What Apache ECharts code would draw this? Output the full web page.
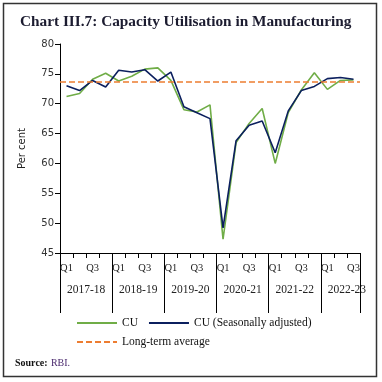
<!DOCTYPE html>
<html><head><meta charset="utf-8">
<script src="https://cdn.jsdelivr.net/npm/echarts@6/dist/echarts.min.js"></script>
<style>html,body{margin:0;padding:0;background:#fff}#c{width:382px;height:382px}</style>
</head><body><div id="c"></div>
<script>
var quarters = ['Q1','Q2','Q3','Q4','Q1','Q2','Q3','Q4','Q1','Q2','Q3','Q4','Q1','Q2','Q3','Q4','Q1','Q2','Q3','Q4','Q1','Q2','Q3'];
var years = ['2017-18','2017-18','2017-18','2017-18','2018-19','2018-19','2018-19','2018-19','2019-20','2019-20','2019-20','2019-20','2020-21','2020-21','2020-21','2020-21','2021-22','2021-22','2021-22','2021-22','2022-23','2022-23','2022-23'];
var cu = [71.2,71.7,74.1,75.1,73.8,74.6,75.8,76.0,73.9,69.0,68.6,69.8,47.3,63.5,66.7,69.2,60.0,68.5,72.3,75.2,72.4,73.9,74.0];
var cuSA = [73.0,72.2,73.9,72.8,75.6,75.3,75.7,73.8,75.3,69.5,68.5,67.5,49.2,63.8,66.4,67.1,61.8,68.8,72.2,72.9,74.2,74.4,74.1];
var longTermAvg = 73.6;
var yTicks = {min:45, max:80, interval:5};

var serif = 'Liberation Serif';
var chart = echarts.init(document.getElementById('c'), null, {renderer:'canvas'});
var legText = {fontFamily:serif, fontSize:11.5, color:'#111'};
chart.setOption({
  animation:false,
  title:{text:'Chart III.7: Capacity Utilisation in Manufacturing', left:15, top:10,
    textStyle:{fontFamily:serif, fontWeight:'bold', fontSize:15.3, color:'#1c1c30'}},
  grid:{left:60, right:22, top:44, bottom:129},
  legend:[
    {data:['CU','CU (Seasonally adjusted)'], left:71, top:312, itemWidth:40, itemHeight:10, itemGap:10,
     itemStyle:{opacity:0}, textStyle:legText},
    {data:['Long-term average'], left:71, top:331, itemWidth:40, itemHeight:10,
     itemStyle:{opacity:0}, textStyle:legText}
  ],
  xAxis:[
    {type:'category', data:quarters, boundaryGap:true,
     axisLine:{lineStyle:{color:'#000', width:1}},
     axisTick:{show:true, interval:0, length:5, lineStyle:{color:'#000'}},
     axisLabel:{interval:0, margin:10, fontFamily:serif, fontSize:10.5, color:'#222',
       formatter:function(v,i){return (i%4===0||i%4===2)?v:'';}}},
    {type:'category', data:years, position:'bottom', boundaryGap:true,
     axisLine:{show:false},
     axisTick:{show:true, length:60, lineStyle:{color:'#000'},
       interval:function(i){return i%4===0;}},
     axisLabel:{interval:0, margin:31, fontFamily:serif, fontSize:11.5, color:'#222', padding:[0,0,0,13],
       formatter:function(v,i){return i%4===1?v:'';}}}
  ],
  yAxis:{type:'value', min:yTicks.min, max:yTicks.max, interval:yTicks.interval,
    name:'Per cent', nameLocation:'middle', nameGap:33, nameRotate:90,
    nameTextStyle:{fontFamily:'DejaVu Sans', fontSize:10, color:'#222'},
    axisLine:{show:true, lineStyle:{color:'#000'}},
    axisTick:{show:true, length:5, lineStyle:{color:'#000'}},
    splitLine:{show:false},
    axisLabel:{fontFamily:'DejaVu Sans', fontSize:10, color:'#333', margin:6}},
  series:[
    {name:'CU', type:'line', data:cu, symbol:'none', lineStyle:{color:'#70ad47', width:1.6}, itemStyle:{color:'#70ad47'}, z:2},
    {name:'CU (Seasonally adjusted)', type:'line', data:cuSA, symbol:'none', lineStyle:{color:'#0b1f5e', width:1.6}, itemStyle:{color:'#0b1f5e'}, z:3},
    {name:'Long-term average', type:'line', data:[], symbol:'none',
     lineStyle:{color:'#ed7d31', width:1.6, type:[6,3]}, itemStyle:{color:'#ed7d31'},
     markLine:{symbol:'none', silent:true, label:{show:false},
       lineStyle:{color:'#ed7d31', width:1.6, type:[6,3]},
       data:[{yAxis:longTermAvg}]}, z:1}
  ],
  graphic:[
    {type:'rect', shape:{x:3.5, y:3.5, width:373, height:373}, style:{fill:'none', stroke:'#333', lineWidth:1.5}},
    {type:'text', left:15, top:357, style:{text:'{b|Source:} {r|RBI.}',
      rich:{b:{fontFamily:serif, fontWeight:'bold', fontSize:10, fill:'#111'},
            r:{fontFamily:serif, fontSize:10, fill:'#4b2a6e'}}}}
  ]
});
</script></body></html>
